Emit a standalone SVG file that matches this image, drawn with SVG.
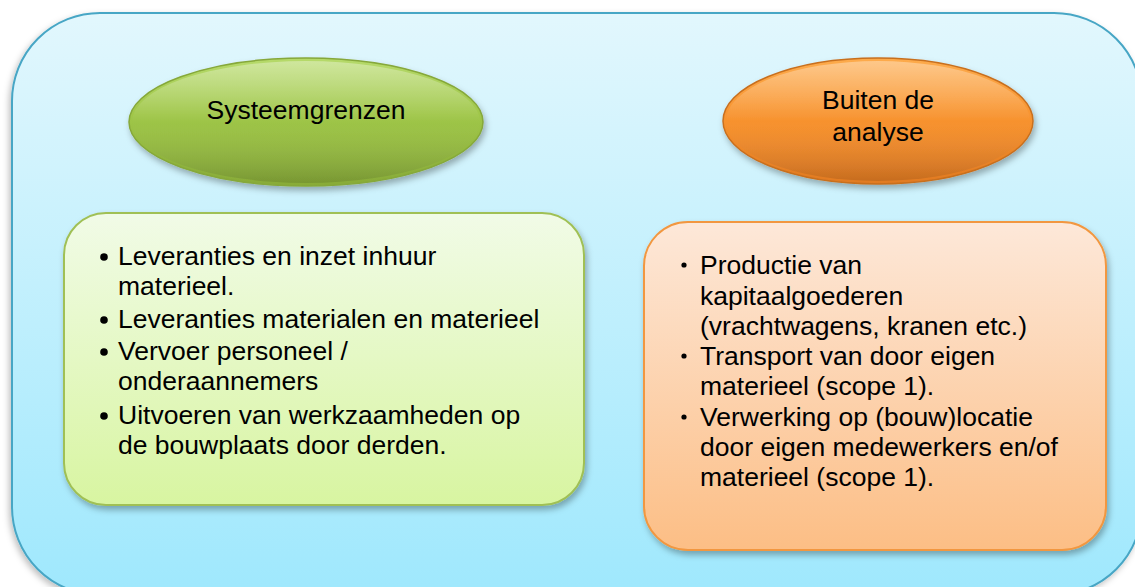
<svg xmlns="http://www.w3.org/2000/svg" width="1135" height="587" viewBox="0 0 1135 587">
  <defs>
    <linearGradient id="gOuter" x1="0" y1="0" x2="0" y2="1">
      <stop offset="0" stop-color="#e2f7fd"/>
      <stop offset="1" stop-color="#9fe8fd"/>
    </linearGradient>
    <linearGradient id="gGreenEl" x1="0" y1="0" x2="0" y2="1">
      <stop offset="0" stop-color="#b6da6a"/>
      <stop offset="0.5" stop-color="#9dc446"/>
      <stop offset="1" stop-color="#88ab38"/>
    </linearGradient>
    <linearGradient id="gOrangeEl" x1="0" y1="0" x2="0" y2="1">
      <stop offset="0" stop-color="#fdab4c"/>
      <stop offset="0.5" stop-color="#f7922e"/>
      <stop offset="1" stop-color="#e17a22"/>
    </linearGradient>
    <linearGradient id="gGreenBox" x1="0" y1="0" x2="0" y2="1">
      <stop offset="0" stop-color="#f1fbe7"/>
      <stop offset="1" stop-color="#d8f5a1"/>
    </linearGradient>
    <linearGradient id="gOrangeBox" x1="0" y1="0" x2="0" y2="1">
      <stop offset="0" stop-color="#fde8d9"/>
      <stop offset="1" stop-color="#fcbe85"/>
    </linearGradient>
    <linearGradient id="gShine" x1="0" y1="0" x2="0" y2="1">
      <stop offset="0" stop-color="#ffffff" stop-opacity="0.35"/>
      <stop offset="0.5" stop-color="#ffffff" stop-opacity="0"/>
      <stop offset="1" stop-color="#000000" stop-opacity="0.12"/>
    </linearGradient>
    <filter id="shadow" x="-10%" y="-10%" width="125%" height="130%">
      <feDropShadow dx="2" dy="4" stdDeviation="3" flood-color="#000000" flood-opacity="0.3"/>
    </filter>
    <filter id="shadowOuter" x="-5%" y="-5%" width="110%" height="115%">
      <feDropShadow dx="-2" dy="3" stdDeviation="3" flood-color="#000000" flood-opacity="0.25"/>
    </filter>
  </defs>
  <style>
    text { font-family: "Liberation Sans", Arial, sans-serif; font-size: 26.5px; fill: #000000; }
    .c { text-anchor: middle; }
  </style>
  <rect width="1135" height="587" fill="#ffffff"/>

  <g id="outer">
    <rect x="12" y="13" width="1130" height="582" rx="88" ry="88" fill="url(#gOuter)" stroke="#47a6c5" stroke-width="2" filter="url(#shadowOuter)"/>
  </g>

  <g id="connectors"></g>

  <g id="node-systeemgrenzen">
    <ellipse cx="306" cy="122" rx="177" ry="64" fill="url(#gGreenEl)" stroke="#86a83a" stroke-width="1.5" filter="url(#shadow)"/>
    <ellipse cx="306" cy="122" rx="174" ry="61" fill="url(#gShine)"/>
    <text class="c" x="306" y="119">Systeemgrenzen</text>
  </g>

  <g id="node-buiten">
    <ellipse cx="878" cy="121" rx="155" ry="63" fill="url(#gOrangeEl)" stroke="#c86f1f" stroke-width="1.5" filter="url(#shadow)"/>
    <ellipse cx="878" cy="121" rx="152" ry="60" fill="url(#gShine)"/>
    <text class="c" x="878" y="109">Buiten de</text>
    <text class="c" x="878" y="141">analyse</text>
  </g>

  <g id="node-binnen-lijst">
    <rect x="64" y="213" width="520" height="292" rx="42" ry="42" fill="url(#gGreenBox)" stroke="#a0c055" stroke-width="2" filter="url(#shadow)"/>
    <circle cx="104" cy="257" r="3.8"/>
    <circle cx="104" cy="320" r="3.8"/>
    <circle cx="104" cy="352" r="3.8"/>
    <circle cx="104" cy="416" r="3.8"/>
    <text x="118" y="265">Leveranties en inzet inhuur</text>
    <text x="118" y="295">materieel.</text>
    <text x="118" y="328">Leveranties materialen en materieel</text>
    <text x="118" y="360">Vervoer personeel /</text>
    <text x="118" y="390">onderaannemers</text>
    <text x="118" y="424">Uitvoeren van werkzaamheden op</text>
    <text x="118" y="454">de bouwplaats door derden.</text>
  </g>

  <g id="node-buiten-lijst">
    <rect x="644" y="222" width="462" height="328" rx="44" ry="44" fill="url(#gOrangeBox)" stroke="#f2973f" stroke-width="2" filter="url(#shadow)"/>
    <circle cx="684" cy="265" r="2.6"/>
    <circle cx="684" cy="356" r="2.6"/>
    <circle cx="684" cy="417" r="2.6"/>
    <text x="700" y="274">Productie van</text>
    <text x="700" y="305">kapitaalgoederen</text>
    <text x="700" y="335">(vrachtwagens, kranen etc.)</text>
    <text x="700" y="365">Transport van door eigen</text>
    <text x="700" y="395">materieel (scope 1).</text>
    <text x="700" y="426">Verwerking op (bouw)locatie</text>
    <text x="700" y="456">door eigen medewerkers en/of</text>
    <text x="700" y="486">materieel (scope 1).</text>
  </g>
</svg>
